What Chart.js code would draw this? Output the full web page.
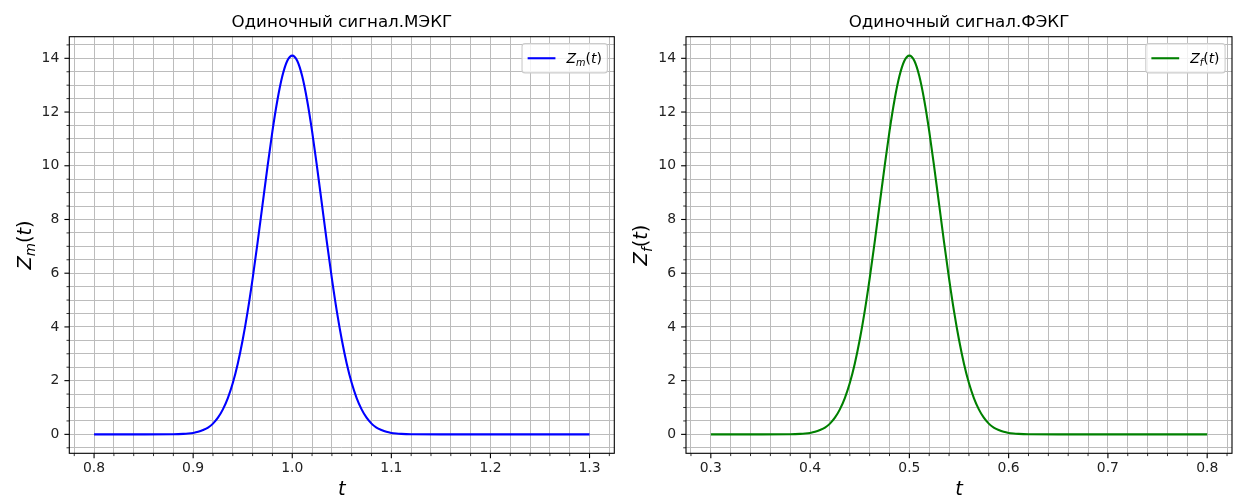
<!DOCTYPE html>
<html>
<head>
<meta charset="utf-8">
<script src="https://cdn.jsdelivr.net/npm/chart.js@4.4.0/dist/chart.umd.min.js"></script>
<style>
  body { margin: 0; background: #fff; width: 1235px; height: 497px; overflow: hidden; position: relative; }
  canvas { position: absolute; top: 0; }
  #chartM { left: 0; }
  #chartF { left: 620px; }
</style>
</head>
<body>
<canvas id="chartM" width="620" height="497"></canvas>
<canvas id="chartF" width="615" height="497"></canvas>
<script>
// ====================
// ДАННЫЕ
// ====================
const tM = [0.80, 0.85, 0.88, 0.885, 0.89, 0.895, 0.90, 0.905, 0.91, 0.915, 0.92, 0.925, 0.93, 0.935, 0.94, 0.945,
  0.95, 0.955, 0.96, 0.965, 0.97, 0.975, 0.98, 0.985, 0.99, 0.995, 1.00, 1.005, 1.01, 1.015, 1.02, 1.025, 1.03,
  1.035, 1.04, 1.045, 1.05, 1.055, 1.06, 1.065, 1.07, 1.075, 1.08, 1.085, 1.09, 1.095, 1.10, 1.105, 1.11, 1.115,
  1.12, 1.15, 1.20, 1.25, 1.30];
const zM = [0, 0, 0.005, 0.009, 0.017, 0.031, 0.054, 0.094, 0.16, 0.25, 0.40, 0.62, 0.93, 1.35, 1.91, 2.63,
  3.52, 4.58, 5.80, 7.14, 8.55, 9.96, 11.29, 12.44, 13.34, 13.91, 14.10, 13.91, 13.34, 12.44, 11.29, 9.96, 8.55,
  7.14, 5.80, 4.58, 3.52, 2.63, 1.91, 1.35, 0.93, 0.62, 0.40, 0.25, 0.16, 0.094, 0.054, 0.031, 0.017, 0.009,
  0.005, 0, 0, 0, 0];

const tF = [0.30, 0.35, 0.38, 0.385, 0.39, 0.395, 0.40, 0.405, 0.41, 0.415, 0.42, 0.425, 0.43, 0.435, 0.44, 0.445,
  0.45, 0.455, 0.46, 0.465, 0.47, 0.475, 0.48, 0.485, 0.49, 0.495, 0.50, 0.505, 0.51, 0.515, 0.52, 0.525, 0.53,
  0.535, 0.54, 0.545, 0.55, 0.555, 0.56, 0.565, 0.57, 0.575, 0.58, 0.585, 0.59, 0.595, 0.60, 0.605, 0.61, 0.615,
  0.62, 0.65, 0.70, 0.75, 0.80];
const zF = [0, 0, 0.005, 0.009, 0.017, 0.031, 0.054, 0.094, 0.16, 0.25, 0.40, 0.62, 0.93, 1.35, 1.91, 2.63,
  3.52, 4.58, 5.80, 7.14, 8.55, 9.96, 11.29, 12.44, 13.34, 13.91, 14.10, 13.91, 13.34, 12.44, 11.29, 9.96, 8.55,
  7.14, 5.80, 4.58, 3.52, 2.63, 1.91, 1.35, 0.93, 0.62, 0.40, 0.25, 0.16, 0.094, 0.054, 0.031, 0.017, 0.009,
  0.005, 0, 0, 0, 0];

const xTicksM = [0.8, 0.9, 1.0, 1.1, 1.2, 1.3];
const xTicksF = [0.3, 0.4, 0.5, 0.6, 0.7, 0.8];
const yTicks = [0, 2, 4, 6, 8, 10, 12, 14];

// ====================
// ОБЩЕЕ
// ====================
Chart.defaults.font.family = "'DejaVu Sans', sans-serif";
Chart.defaults.color = '#000';

const FONT = "'DejaVu Sans', sans-serif";
const GRID = '#bcbcbc';

function isMajor(v, list) {
  return list.some(m => Math.abs(m - v) < 1e-6);
}

// сетка рисуется по всем малым делениям
function minorTicks(from, to, step) {
  const out = [];
  const n = Math.round((to - from) / step);
  for (let i = 0; i <= n; i++) out.push({ value: +(from + i * step).toFixed(4) });
  return out;
}

// Z_m(t) / Z_f(t) в стиле mathtext
function mathParts(sub) {
  return [
    { s: 'Z', it: true },
    { s: sub, it: true, sub: true },
    { s: '(', it: false },
    { s: 't', it: true },
    { s: ')', it: false }
  ];
}

function mathFont(p, size) {
  return (p.it ? 'italic ' : '') + (p.sub ? size * 0.7 : size) + 'px ' + FONT;
}

function measureMath(ctx, parts, size) {
  let w = 0;
  parts.forEach(p => { ctx.font = mathFont(p, size); p.w = ctx.measureText(p.s).width; w += p.w; });
  return w;
}

function drawMath(ctx, parts, x, y, size, center) {
  const w = measureMath(ctx, parts, size);
  let cx = center ? x - w / 2 : x;
  ctx.textAlign = 'left';
  ctx.textBaseline = 'alphabetic';
  parts.forEach(p => {
    ctx.font = mathFont(p, size);
    ctx.fillText(p.s, cx, y + (p.sub ? size * 0.22 : 0));
    cx += p.w;
  });
  return w;
}

// рамка, засечки, заголовок, подписи осей и легенда
const decor = {
  id: 'decor',
  afterDraw(chart, args, o) {
    const ctx = chart.ctx;
    const a = chart.chartArea;
    const xs = chart.scales.x, ys = chart.scales.y;
    ctx.save();

    ctx.strokeStyle = '#000';
    ctx.lineWidth = 1.1;
    ctx.strokeRect(a.left, a.top, a.right - a.left, a.bottom - a.top);

    xs.ticks.forEach(t => {
      const px = xs.getPixelForValue(t.value);
      const major = isMajor(t.value, o.xMajor);
      ctx.lineWidth = major ? 1.1 : 0.8;
      ctx.beginPath();
      ctx.moveTo(px, a.bottom);
      ctx.lineTo(px, a.bottom + (major ? 4.9 : 2.8));
      ctx.stroke();
    });
    ys.ticks.forEach(t => {
      const py = ys.getPixelForValue(t.value);
      const major = isMajor(t.value, yTicks);
      ctx.lineWidth = major ? 1.1 : 0.8;
      ctx.beginPath();
      ctx.moveTo(a.left, py);
      ctx.lineTo(a.left - (major ? 4.9 : 2.8), py);
      ctx.stroke();
    });

    // заголовок
    ctx.fillStyle = '#000';
    ctx.font = '16.7px ' + FONT;
    ctx.textAlign = 'center';
    ctx.textBaseline = 'alphabetic';
    ctx.fillText(o.title, (a.left + a.right) / 2, a.top - 9.5);

    // подпись оси x
    ctx.font = 'italic 19.4px ' + FONT;
    ctx.fillText('t', (a.left + a.right) / 2, 495);

    // подпись оси y
    ctx.save();
    ctx.translate(a.left - 38.7, (a.top + a.bottom) / 2);
    ctx.rotate(-Math.PI / 2);
    drawMath(ctx, mathParts(o.sub), 0, 0, 19.4, true);
    ctx.restore();

    // легенда
    const fs = 13.9;
    const parts = mathParts(o.sub);
    const tw = measureMath(ctx, parts, fs);
    const bw = 5.6 + 27.8 + 11.1 + tw + 5.6;
    const bh = 29.3;
    const bx = a.right - 6.9 - bw;
    const by = a.top + 6.9;
    ctx.fillStyle = 'rgba(255,255,255,0.8)';
    ctx.strokeStyle = '#cccccc';
    ctx.lineWidth = 1.1;
    ctx.beginPath();
    ctx.roundRect(bx, by, bw, bh, 3);
    ctx.fill();
    ctx.stroke();
    ctx.strokeStyle = o.color;
    ctx.lineWidth = 2.1;
    ctx.beginPath();
    ctx.moveTo(bx + 5.6, by + bh / 2);
    ctx.lineTo(bx + 5.6 + 27.8, by + bh / 2);
    ctx.stroke();
    ctx.fillStyle = '#000';
    drawMath(ctx, parts, bx + 5.6 + 27.8 + 11.1, by + bh / 2 + 5, fs, false);

    ctx.restore();
  }
};

function makeChart(id, o) {
  return new Chart(document.getElementById(id), {
    type: 'line',
    data: {
      datasets: [{
        data: o.t.map((t, i) => ({ x: t, y: o.z[i] })),
        borderColor: o.color,
        borderWidth: 2.1,
        pointRadius: 0,
        cubicInterpolationMode: 'monotone',
        fill: false
      }]
    },
    options: {
      responsive: false,
      animation: false,
      devicePixelRatio: 1,
      layout: { padding: { left: 0, right: o.padRight, top: 36.7, bottom: 0 } },
      plugins: {
        legend: { display: false },
        tooltip: { enabled: false },
        decor: { title: o.title, sub: o.sub, color: o.color, xMajor: o.xMajor }
      },
      scales: {
        x: {
          type: 'linear',
          min: o.xMin,
          max: o.xMax,
          afterFit: s => { s.height = 43.7; },
          afterBuildTicks: s => { s.ticks = minorTicks(o.xMinor[0], o.xMinor[1], 0.02); },
          grid: { color: GRID, lineWidth: 1, drawTicks: false },
          border: { display: false },
          ticks: {
            autoSkip: false,
            maxRotation: 0,
            padding: 7,
            font: { size: 13.9 },
            color: '#222',
            callback: v => isMajor(v, o.xMajor) ? v.toFixed(1) : ''
          }
        },
        y: {
          min: -0.705,
          max: 14.805,
          afterFit: s => { s.width = o.yWidth; },
          afterBuildTicks: s => { s.ticks = minorTicks(-0.5, 14.5, 0.5); },
          grid: { color: GRID, lineWidth: 1, drawTicks: false },
          border: { display: false },
          ticks: {
            autoSkip: false,
            padding: 10,
            font: { size: 13.9 },
            color: '#222',
            callback: v => isMajor(v, yTicks) ? String(Math.round(v)) : ''
          }
        }
      }
    },
    plugins: [decor]
  });
}

makeChart('chartM', {
  t: tM, z: zM, color: '#0000ff', title: 'Одиночный сигнал.МЭКГ', sub: 'm',
  xMin: 0.775, xMax: 1.325, xMinor: [0.78, 1.32], xMajor: xTicksM,
  yWidth: 69.3, padRight: 5.7
});

makeChart('chartF', {
  t: tF, z: zF, color: '#008000', title: 'Одиночный сигнал.ФЭКГ', sub: 'f',
  xMin: 0.275, xMax: 0.825, xMinor: [0.28, 0.82], xMajor: xTicksF,
  yWidth: 66, padRight: 3
});
</script>
</body>
</html>
